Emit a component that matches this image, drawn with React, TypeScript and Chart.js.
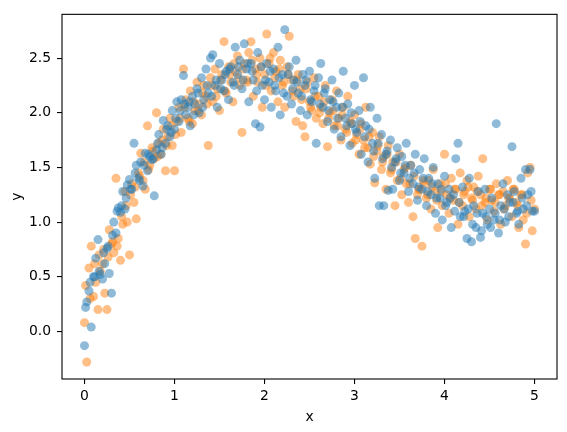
import { useEffect, useRef } from "react";
import { Chart, registerables } from "chart.js";

Chart.register(...registerables);

const xValues = [
  0, 0.025, 0.05, 0.075, 0.1, 0.125, 0.15, 0.175, 0.2, 0.225,
  0.25, 0.275, 0.3, 0.325, 0.35, 0.375, 0.4, 0.425, 0.45, 0.475,
  0.5, 0.525, 0.55, 0.575, 0.6, 0.625, 0.65, 0.675, 0.7, 0.725,
  0.75, 0.775, 0.8, 0.825, 0.85, 0.875, 0.9, 0.925, 0.95, 0.975,
  1.0, 1.025, 1.05, 1.075, 1.1, 1.125, 1.15, 1.175, 1.2, 1.225,
  1.25, 1.275, 1.3, 1.325, 1.35, 1.375, 1.4, 1.425, 1.45, 1.475,
  1.5, 1.525, 1.55, 1.575, 1.6, 1.625, 1.65, 1.675, 1.7, 1.725,
  1.75, 1.775, 1.8, 1.825, 1.85, 1.875, 1.9, 1.925, 1.95, 1.975,
  2.0, 2.025, 2.05, 2.075, 2.1, 2.125, 2.15, 2.175, 2.2, 2.225,
  2.25, 2.275, 2.3, 2.325, 2.35, 2.375, 2.4, 2.425, 2.45, 2.475,
  2.5, 2.525, 2.55, 2.575, 2.6, 2.625, 2.65, 2.675, 2.7, 2.725,
  2.75, 2.775, 2.8, 2.825, 2.85, 2.875, 2.9, 2.925, 2.95, 2.975,
  3.0, 3.025, 3.05, 3.075, 3.1, 3.125, 3.15, 3.175, 3.2, 3.225,
  3.25, 3.275, 3.3, 3.325, 3.35, 3.375, 3.4, 3.425, 3.45, 3.475,
  3.5, 3.525, 3.55, 3.575, 3.6, 3.625, 3.65, 3.675, 3.7, 3.725,
  3.75, 3.775, 3.8, 3.825, 3.85, 3.875, 3.9, 3.925, 3.95, 3.975,
  4.0, 4.025, 4.05, 4.075, 4.1, 4.125, 4.15, 4.175, 4.2, 4.225,
  4.25, 4.275, 4.3, 4.325, 4.35, 4.375, 4.4, 4.425, 4.45, 4.475,
  4.5, 4.525, 4.55, 4.575, 4.6, 4.625, 4.65, 4.675, 4.7, 4.725,
  4.75, 4.775, 4.8, 4.825, 4.85, 4.875, 4.9, 4.925, 4.95, 4.975,
  5.0,
];

const blueY = [
  -0.13, 0.27, 0.37, 0.04, 0.5, 0.67, 0.84, 0.52, 0.48, 0.62,
  0.76, 0.53, 0.35, 1.0, 0.9, 1.13, 1.09, 1.28, 1.12, 1.34,
  1.39, 1.3, 1.72, 1.52, 1.4, 1.55, 1.33, 1.63, 1.47, 1.6,
  1.57, 1.24, 1.66, 1.8, 1.62, 1.93, 1.72, 1.88, 1.78, 2.02,
  1.85, 2.1, 1.92, 2.12, 2.34, 1.98, 2.05, 1.88, 2.15, 2.08,
  2.22, 2.0, 2.32, 2.12, 2.4, 2.18, 2.5, 2.53, 2.25, 2.05,
  2.45, 2.3, 2.2, 2.38, 2.12, 2.42, 2.28, 2.6, 2.35, 2.48,
  2.22, 2.63, 2.4, 2.1, 2.45, 2.3, 1.9, 2.55, 1.87, 2.25,
  2.12, 2.45, 2.28, 2.05, 2.4, 2.2, 2.6, 1.98, 2.35, 2.76,
  2.15, 2.42, 2.08, 2.3, 2.48, 2.18, 2.02, 2.35, 2.25, 1.98,
  2.38, 2.1, 2.2, 1.72, 2.32, 2.45, 2.05, 2.22, 1.92, 2.12,
  2.3, 1.85, 2.05, 2.18, 1.78, 2.38, 1.95, 2.08, 1.7, 1.9,
  2.25, 1.82, 2.02, 1.62, 2.32, 1.88, 1.55, 2.05, 1.72, 1.4,
  1.95, 1.15, 1.8, 1.15, 1.62, 1.29, 1.75, 1.3, 1.55, 1.68,
  1.38, 1.6, 1.45, 1.72, 1.28, 1.52, 1.35, 1.62, 1.2, 1.48,
  1.3, 1.58, 1.15, 1.4, 1.25, 1.5, 1.08, 1.35, 1.22, 1.02,
  1.42, 1.18, 1.3, 0.95, 1.25, 1.58, 1.72, 1.05, 1.32, 1.1,
  0.85, 1.4, 0.82, 1.15, 0.95, 1.28, 0.86, 1.08, 1.3, 0.98,
  1.12, 1.22, 1.02, 1.9, 0.9, 1.15, 1.35, 1.0, 1.25, 1.18,
  1.69, 1.28, 1.08, 0.98, 1.4, 1.12, 1.48, 1.25, 1.48, 1.1,
  1.1,
];

const orangeY = [
  0.08, -0.28, 0.58, 0.78, 0.32, 0.45, 0.2, 0.55, 0.62, 0.35,
  0.2, 0.93, 0.8, 0.72, 1.4, 0.85, 0.65, 0.98, 1.28, 1.0,
  0.7, 1.35, 1.18, 1.03, 1.45, 1.63, 1.38, 1.3, 1.88, 1.52,
  1.68, 1.58, 2.0, 1.72, 1.62, 1.85, 1.47, 1.78, 1.95, 1.7,
  1.47, 1.92, 2.05, 1.82, 2.4, 2.12, 1.95, 2.2, 1.9, 2.02,
  2.28, 2.08, 1.98, 2.25, 2.15, 1.7, 2.32, 2.1, 2.4, 2.22,
  2.02, 2.35, 2.65, 2.18, 2.42, 2.28, 2.1, 2.38, 2.52, 2.25,
  1.82, 2.45, 2.3, 2.55, 2.65, 2.15, 2.4, 2.28, 2.5, 2.05,
  2.35, 2.72, 2.45, 2.2, 2.55, 2.38, 2.1, 2.48, 2.25, 2.05,
  2.42, 2.7, 2.3, 2.15, 1.92, 2.35, 2.22, 1.88, 1.78, 2.28,
  2.1, 2.02, 2.32, 1.95, 2.15, 2.05, 1.9, 2.25, 1.69, 2.0,
  2.12, 1.88, 2.2, 1.95, 1.75, 2.05, 1.85, 2.15, 1.92, 1.72,
  1.98, 1.8, 1.62, 1.9, 1.75, 2.05, 1.68, 1.53, 1.82, 1.36,
  1.65, 1.78, 1.48, 1.6, 1.3, 1.7, 1.45, 1.55, 1.15, 1.38,
  1.62, 1.25, 1.48, 1.35, 1.18, 1.52, 1.05, 0.85, 1.25, 1.3,
  0.78, 1.35, 1.22, 1.38, 1.12, 1.48, 1.28, 0.95, 1.35, 1.15,
  1.62, 1.25, 1.08, 1.4, 1.2, 1.3, 0.98, 1.45, 1.15, 1.28,
  1.38, 1.05, 1.22, 1.32, 1.12, 1.42, 1.25, 1.58, 1.18, 1.02,
  1.3, 1.2, 1.1, 1.35, 1.25, 0.98, 1.28, 1.15, 1.38, 1.22,
  1.05, 1.3, 1.18, 0.95, 1.25, 1.02, 0.8, 1.45, 1.5, 0.92,
  1.12,
];

const xMid = [
  0.0125, 0.0625, 0.1125, 0.1625, 0.2125, 0.2625, 0.3125, 0.3625, 0.4125, 0.4625,
  0.5125, 0.5625, 0.6125, 0.6625, 0.7125, 0.7625, 0.8125, 0.8625, 0.9125, 0.9625,
  1.0125, 1.0625, 1.1125, 1.1625, 1.2125, 1.2625, 1.3125, 1.3625, 1.4125, 1.4625,
  1.5125, 1.5625, 1.6125, 1.6625, 1.7125, 1.7625, 1.8125, 1.8625, 1.9125, 1.9625,
  2.0125, 2.0625, 2.1125, 2.1625, 2.2125, 2.2625, 2.3125, 2.3625, 2.4125, 2.4625,
  2.5125, 2.5625, 2.6125, 2.6625, 2.7125, 2.7625, 2.8125, 2.8625, 2.9125, 2.9625,
  3.0125, 3.0625, 3.1125, 3.1625, 3.2125, 3.2625, 3.3125, 3.3625, 3.4125, 3.4625,
  3.5125, 3.5625, 3.6125, 3.6625, 3.7125, 3.7625, 3.8125, 3.8625, 3.9125, 3.9625,
  4.0125, 4.0625, 4.1125, 4.1625, 4.2125, 4.2625, 4.3125, 4.3625, 4.4125, 4.4625,
  4.5125, 4.5625, 4.6125, 4.6625, 4.7125, 4.7625, 4.8125, 4.8625, 4.9125, 4.9625,
];

const blueMidY = [
  0.22, 0.45, 0.5, 0.55, 0.72, 0.78, 0.88, 1.1, 1.15, 1.22,
  1.3, 1.45, 1.38, 1.52, 1.62, 1.58, 1.72, 1.68, 1.85, 1.82,
  1.95, 2.02, 2.08, 2.1, 1.98, 2.18, 2.05, 2.25, 2.15, 2.3,
  2.22, 2.35, 2.4, 2.25, 2.42, 2.3, 2.45, 2.38, 2.2, 2.42,
  2.3, 2.38, 2.25, 2.32, 2.18, 2.35, 2.22, 2.28, 2.15, 2.3,
  2.12, 2.25, 2.08, 2.18, 2.02, 2.1, 1.95, 2.05, 1.88, 2.0,
  1.85, 1.92, 1.78, 1.85, 1.65, 1.72, 1.58, 1.65, 1.5, 1.58,
  1.45, 1.52, 1.4, 1.45, 1.32, 1.4, 1.28, 1.35, 1.22, 1.3,
  1.15, 1.22, 1.1, 1.18, 1.05, 1.12, 0.98, 1.08, 0.92, 1.05,
  0.95, 1.08, 1.02, 1.12, 1.05, 1.18, 1.1, 1.22, 1.15, 1.28,
];

const orangeMidY = [
  0.42, 0.3, 0.62, 0.7, 0.75, 0.68, 0.82, 0.78, 1.05, 1.15,
  1.25, 1.32, 1.42, 1.55, 1.48, 1.65, 1.6, 1.75, 1.7, 1.88,
  1.8, 1.95, 2.05, 1.92, 2.1, 2.02, 2.18, 2.08, 2.25, 2.15,
  2.3, 2.2, 2.35, 2.45, 2.32, 2.4, 2.28, 2.48, 2.35, 2.42,
  2.25, 2.5, 2.32, 2.4, 2.28, 2.35, 2.2, 2.3, 2.12, 2.22,
  2.05, 2.15, 2.0, 2.1, 1.95, 2.02, 1.88, 1.98, 1.82, 1.9,
  1.75, 1.85, 1.68, 1.78, 1.6, 1.7, 1.55, 1.62, 1.48, 1.55,
  1.4, 1.5, 1.35, 1.42, 1.3, 1.38, 1.25, 1.32, 1.2, 1.28,
  1.35, 1.22, 1.3, 1.18, 1.25, 1.32, 1.2, 1.28, 1.15, 1.22,
  1.3, 1.18, 1.25, 1.12, 1.22, 1.3, 1.15, 1.25, 1.08, 1.2,
];

const xTicks = [0, 1, 2, 3, 4, 5];
const yTicks = [0, 0.5, 1.0, 1.5, 2.0, 2.5];

function pairs(xs: number[], ys: number[]) {
  return xs.map((x, i) => ({ x, y: ys[i] }));
}

export default function App() {
  const ref = useRef<HTMLCanvasElement>(null);

  useEffect(() => {
    if (!ref.current) return;
    const frame = {
      id: "frame",
      afterDraw(chart: any) {
        const { ctx, chartArea } = chart;
        const { left, top, right, bottom } = chartArea;
        ctx.save();
        ctx.strokeStyle = "#000";
        ctx.lineWidth = 1.1;
        ctx.strokeRect(left, top, right - left, bottom - top);
        ctx.restore();
      },
    };
    const font = { family: "DejaVu Sans", size: 13.9 };
    const chart = new Chart(ref.current, {
      type: "scatter",
      data: {
        datasets: [
          {
            data: [...pairs(xValues, blueY), ...pairs(xMid, blueMidY)].sort((a, b) => a.x - b.x),
            backgroundColor: "rgba(31,119,180,0.5)",
            borderWidth: 0,
            pointRadius: 4.5,
          },
          {
            data: [...pairs(xValues, orangeY), ...pairs(xMid, orangeMidY)].sort((a, b) => a.x - b.x),
            backgroundColor: "rgba(255,127,14,0.5)",
            borderWidth: 0,
            pointRadius: 4.5,
          },
        ],
      },
      options: {
        responsive: false,
        animation: false,
        devicePixelRatio: 1,
        events: [],
        layout: { padding: { top: 10, right: 10, left: 0, bottom: 0 } },
        plugins: { legend: { display: false }, tooltip: { enabled: false } },
        scales: {
          x: {
            type: "linear",
            min: -0.25,
            max: 5.25,
            afterBuildTicks: (s: any) => {
              s.ticks = xTicks.map((v) => ({ value: v }));
            },
            afterFit: (s: any) => {
              s.height = 53;
            },
            grid: { drawOnChartArea: false, drawTicks: true, tickLength: 5, color: "#000", lineWidth: 1.1 },
            border: { display: false },
            ticks: { color: "#000", font, padding: 4, maxRotation: 0, callback: (v: any) => String(v) },
            title: { display: true, text: "x", color: "#000", font, padding: { top: 0, bottom: 6.7 } },
          },
          y: {
            type: "linear",
            min: -0.435,
            max: 2.9,
            afterBuildTicks: (s: any) => {
              s.ticks = yTicks.map((v) => ({ value: v }));
            },
            afterFit: (s: any) => {
              s.width = 62;
            },
            grid: { drawOnChartArea: false, drawTicks: true, tickLength: 5, color: "#000", lineWidth: 1.1 },
            border: { display: false },
            ticks: { color: "#000", font, padding: 6, callback: (v: any) => Number(v).toFixed(1) },
            title: { display: true, text: "y", color: "#000", font, padding: { top: 8.7, bottom: 0 } },
          },
        },
      },
      plugins: [frame],
    } as any);
    return () => chart.destroy();
  }, []);

  return (
    <canvas
      ref={ref}
      width={567}
      height={432}
      style={{ position: "absolute", left: 0, top: 0, width: 567, height: 432 }}
    />
  );
}
